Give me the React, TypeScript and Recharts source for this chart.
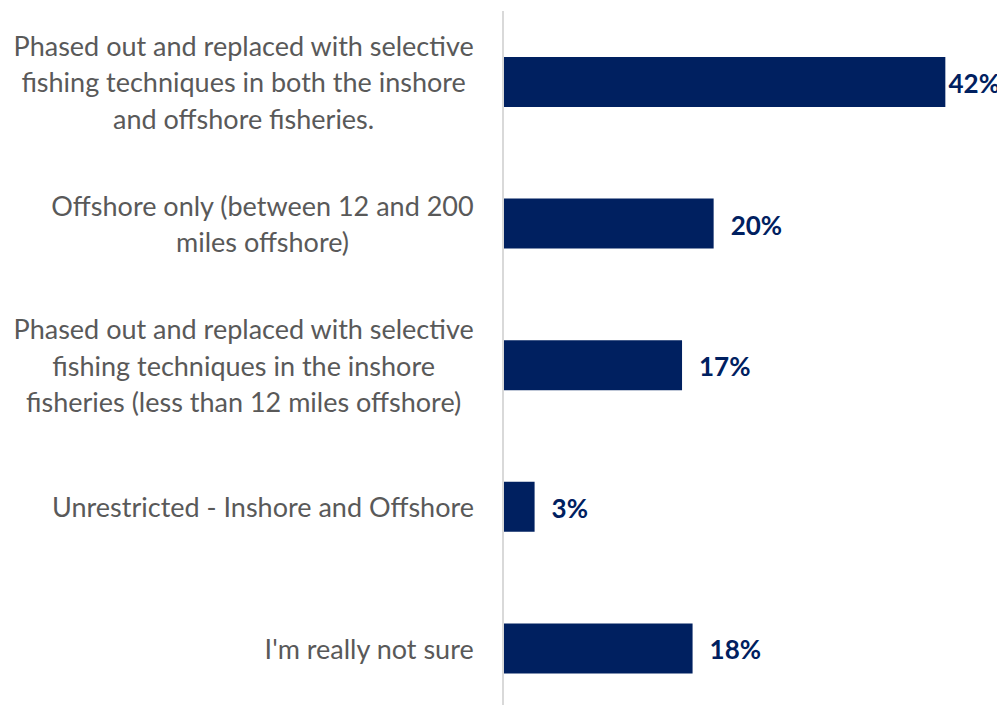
import React from "react";
import { Bar, BarChart, LabelList, XAxis, YAxis } from "recharts";

const categories = [
  "Phased out and replaced with selective|fishing techniques in both the inshore|and offshore fisheries.",
  "Offshore only (between 12 and 200|miles offshore)",
  "Phased out and replaced with selective|fishing techniques in the inshore|fisheries (less than 12 miles offshore)",
  "Unrestricted - Inshore and Offshore",
  "I'm really not sure",
];
const shares = [42, 20, 17, 3, 18];

const data = categories.map((name, i) => ({ name, value: shares[i] }));

const NAVY = "#002060";
const GREY = "#595959";
const FONT = "Lato, 'Open Sans', sans-serif";
const TICK_SIZE = 27;
const VALUE_SIZE = 26;
const LINE_H = 36.5;

let ctx: CanvasRenderingContext2D | null = null;
function measure(text: string, font: string) {
  if (!ctx) ctx = document.createElement("canvas").getContext("2d");
  if (!ctx) return text.length * 12;
  ctx.font = font;
  return ctx.measureText(text).width;
}

function CategoryTick(props: any) {
  const { x, y, payload } = props;
  const lines: string[] = String(payload.value).split("|");
  const widest = Math.max(...lines.map((l) => measure(l, `${TICK_SIZE}px Lato`)));
  const right = x - 29;
  const cx = right - widest / 2;
  const first = y - ((lines.length - 1) * LINE_H) / 2;
  return (
    <g>
      {lines.map((line, i) => (
        <text
          key={i}
          x={cx}
          y={first + i * LINE_H}
          textAnchor="middle"
          dominantBaseline="central"
          fill={GREY}
          fontSize={TICK_SIZE}
          fontFamily={FONT}
        >
          {line}
        </text>
      ))}
    </g>
  );
}

function ValueLabel(props: any) {
  const { x, y, width, height, value } = props;
  const text = `${value}%`;
  const w = measure(text, `bold ${VALUE_SIZE}px Lato`);
  let start = x + width + 17;
  const limit = 992;
  if (start + w > limit) start = Math.max(x + width + 2, limit - w);
  return (
    <text
      x={start}
      y={y + height / 2 + 1}
      dominantBaseline="central"
      fill={NAVY}
      fontSize={VALUE_SIZE}
      fontWeight={700}
      fontFamily={FONT}
    >
      {text}
    </text>
  );
}

export default function App() {
  return (
    <div style={{ width: 997, height: 697, overflow: "hidden", background: "#fff" }}>
      <BarChart
        width={997}
        height={711}
        data={data}
        layout="vertical"
        margin={{ top: 3, right: 7, bottom: 0, left: 0 }}
        barCategoryGap={0}
      >
        <XAxis type="number" domain={[0, 47]} hide />
        <YAxis
          type="category"
          dataKey="name"
          width={495}
          axisLine={{ stroke: "#d9d9d9", strokeWidth: 2 }}
          tickLine={false}
          tickSize={0}
          tickMargin={0}
          interval={0}
          tick={<CategoryTick />}
        />
        <Bar dataKey="value" fill={NAVY} barSize={50} isAnimationActive={false}>
          <LabelList dataKey="value" content={<ValueLabel />} />
        </Bar>
      </BarChart>
    </div>
  );
}
